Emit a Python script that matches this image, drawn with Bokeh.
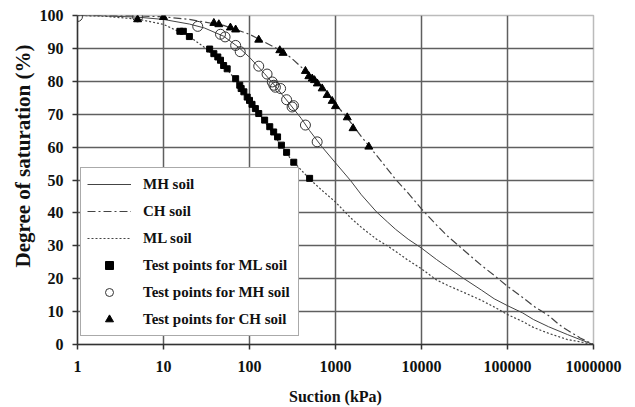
from bokeh.plotting import figure
from bokeh.models import Legend, LegendItem, FixedTicker, Title
from bokeh.embed import file_html
from bokeh.resources import INLINE

# ---- axis ticks ----
x_ticks = [1, 10, 100, 1000, 10000, 100000, 1000000]
x_tick_labels = ["1", "10", "100", "1000", "10000", "100000", "1000000"]
y_ticks = [0, 10, 20, 30, 40, 50, 60, 70, 80, 90, 100]

# ---- fitted curves ----
mh_suction = [1, 2, 5, 10, 20, 30, 50, 75, 100, 150, 200, 300, 400, 500, 700, 1000, 1500,
              2000, 3000, 4000, 5000, 7000, 10000, 15000, 20000, 30000, 50000, 70000,
              100000, 150000, 200000, 300000, 500000, 700000, 1000000]
mh_sat = [100, 99.9, 99.5, 98.8, 97.4, 96.2, 93.7, 90.3, 87.3, 82.3, 78.5, 72.8, 68.7, 65.0,
          60.0, 55.2, 49.8, 45.5, 40.3, 37.3, 35.0, 32.0, 29.3, 25.8, 23.5, 20.3, 16.5, 13.9,
          11.8, 9.6, 7.6, 5.4, 3.0, 1.5, 0]

ch_suction = [1, 2, 5, 10, 20, 50, 100, 200, 300, 500, 700, 1000, 1500, 2000, 3000, 4000,
              5000, 7000, 10000, 15000, 20000, 30000, 50000, 70000, 100000, 150000, 200000,
              300000, 400000, 500000, 700000, 1000000]
ch_sat = [100, 100, 99.9, 99.6, 98.8, 97.0, 94.3, 90.2, 87.3, 82.0, 78.0, 73.2, 67.5, 63.2,
          57.5, 53.4, 50.2, 46.0, 41.2, 36.3, 33.0, 29.0, 24.0, 21.0, 17.7, 14.3, 11.7, 8.8,
          6.0, 4.3, 2.0, 0]

ml_suction = [1, 2, 5, 10, 20, 30, 50, 75, 100, 150, 200, 300, 500, 700, 1000, 1500, 2000,
              3000, 4000, 5000, 7000, 10000, 15000, 20000, 30000, 50000, 70000, 100000,
              150000, 200000, 300000, 500000, 700000, 1000000]
ml_sat = [100, 99.8, 98.9, 97.3, 93.6, 90.3, 85.0, 79.2, 74.5, 67.8, 63.0, 56.5, 50.3, 46.8,
          43.3, 38.5, 35.6, 32.0, 30.0, 28.3, 25.6, 23.0, 19.6, 18.0, 16.0, 13.4, 11.4, 9.1,
          7.0, 5.2, 3.4, 1.5, 0.8, 0]

# ---- test points ----
ml_pts_suction = [15.5, 17, 20, 34.4, 38.5, 42.8, 46, 50, 55, 69, 77, 80, 86, 94, 100, 107,
                  117, 128, 150, 172, 191, 212, 235, 270, 327, 500]
ml_pts_sat = [95.2, 95.2, 93.6, 89.8, 88.4, 87.4, 86.4, 84.8, 83.8, 80.8, 78.8, 77.8, 76.8,
              75.2, 74.2, 73.0, 71.7, 70.2, 68.2, 66.2, 64.6, 63.1, 60.6, 58.4, 55.4, 50.5]

mh_pts_suction = [1, 5, 25, 46, 52, 69, 78, 128, 160, 184, 192, 200, 230, 270, 313, 325, 447, 612]
mh_pts_sat = [99.7, 99.6, 96.7, 94.3, 93.5, 90.9, 89.0, 84.6, 82.2, 79.8, 78.8, 78.2, 77.8,
              74.4, 72.2, 72.6, 66.7, 61.6]

ch_pts_suction = [5, 10, 38.5, 44, 60, 69, 128, 225, 246, 447, 490, 536, 570, 615, 700, 800,
                  915, 1000, 1370, 1600, 2440]
ch_pts_sat = [98.8, 99.5, 97.7, 97.3, 96.3, 95.7, 92.6, 89.4, 88.6, 83.1, 81.5, 80.8, 80.3,
              79.3, 77.8, 75.8, 74.0, 72.4, 69.0, 65.7, 60.1]

FONT = "Liberation Serif"
LINE = "#444444"

p = figure(width=635, height=407, x_axis_type="log", x_range=(1, 1000000), y_range=(0, 100),
           output_backend="svg", toolbar_location=None,
           min_border_left=77, min_border_right=42, min_border_top=15, min_border_bottom=62)
p.background_fill_color = "white"
p.border_fill_color = "white"
p.outline_line_color = "#bbbbbb"
p.outline_line_width = 1.5

# grid
p.xgrid.ticker = FixedTicker(ticks=x_ticks[1:-1])
p.ygrid.ticker = FixedTicker(ticks=y_ticks[1:-1])
for g in (p.xgrid, p.ygrid):
    g.grid_line_color = "#5f5f5f"
    g.grid_line_width = 1.5

# axes
p.xaxis.ticker = FixedTicker(ticks=x_ticks)
p.xaxis.major_label_overrides = {float(t): l for t, l in zip(x_ticks, x_tick_labels)}
p.yaxis.ticker = FixedTicker(ticks=y_ticks)
for ax in (p.xaxis, p.yaxis):
    ax.axis_line_color = "#333333"
    ax.axis_line_width = 1.5
    ax.major_tick_line_color = "#333333"
    ax.major_tick_line_width = 1.5
    ax.major_tick_out = 5
    ax.major_tick_in = 0
    ax.minor_tick_line_color = None
    ax.major_label_text_font = FONT
    ax.major_label_text_font_style = "bold"
    ax.major_label_text_font_size = "16px"
    ax.major_label_text_color = "#111111"
p.xaxis.major_label_standoff = 11
p.yaxis.major_label_standoff = 9
p.xaxis.axis_label = "Suction (kPa)"
p.xaxis.axis_label_text_font = FONT
p.xaxis.axis_label_text_font_style = "bold"
p.xaxis.axis_label_text_font_size = "16px"
p.xaxis.axis_label_text_color = "#111111"
p.xaxis.axis_label_standoff = 13

# curves
r_mh = p.line(mh_suction, mh_sat, line_color=LINE, line_width=1)
r_ch = p.line(ch_suction, ch_sat, line_color=LINE, line_width=1.2, line_dash="8 3 2 3")
r_ml = p.line(ml_suction, ml_sat, line_color=LINE, line_width=1.2, line_dash="2 2")

# points
r_ml_pts = p.scatter(ml_pts_suction, ml_pts_sat, marker="square", size=6,
                     fill_color="black", line_color="black")
r_mh_pts = p.scatter(mh_pts_suction, mh_pts_sat, marker="circle", size=10,
                     fill_color=None, line_color="#333333", line_width=1)
r_ch_pts = p.scatter(ch_pts_suction, ch_pts_sat, marker="triangle", size=8,
                     fill_color="black", line_color="black")

legend = Legend(items=[
    LegendItem(label="MH soil", renderers=[r_mh]),
    LegendItem(label="CH soil", renderers=[r_ch]),
    LegendItem(label="ML soil", renderers=[r_ml]),
    LegendItem(label="Test points for ML soil", renderers=[r_ml_pts]),
    LegendItem(label="Test points for MH soil", renderers=[r_mh_pts]),
    LegendItem(label="Test points for CH soil", renderers=[r_ch_pts]),
], location=(3, 8))
legend.padding = 6
legend.spacing = 7
legend.glyph_width = 44
legend.glyph_height = 20
legend.label_height = 20
legend.label_width = 149
legend.label_standoff = 12
legend.margin = 0
legend.border_line_color = "#555555"
legend.border_line_width = 1.5
legend.background_fill_color = "white"
legend.background_fill_alpha = 1
legend.label_text_font = FONT
legend.label_text_font_style = "bold"
legend.label_text_font_size = "15px"
legend.label_text_color = "#111111"
p.add_layout(legend)

ytitle = Title(text="Degree of saturation (%)", align="right", offset=29,
               text_font=FONT, text_font_style="bold", text_font_size="21px",
               text_color="#111111", standoff=4)
p.add_layout(ytitle, "left")

open("out.html", "w").write(file_html(p, INLINE))
